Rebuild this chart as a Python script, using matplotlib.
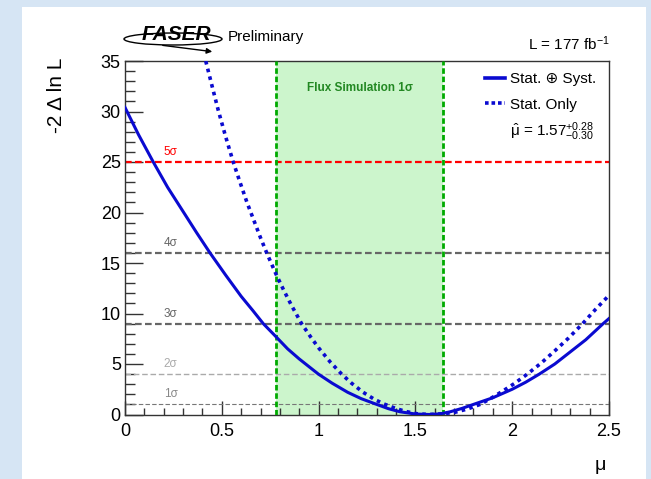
import matplotlib.pyplot as plt
import matplotlib.patches as mpatches
from matplotlib.lines import Line2D
import numpy as np

plt.rcParams['font.family'] = ['Liberation Sans', 'DejaVu Sans']
plt.rcParams['mathtext.fontset'] = 'custom'
plt.rcParams['mathtext.rm'] = 'Liberation Sans'
plt.rcParams['mathtext.it'] = 'Liberation Sans'

# profile likelihood scans
mu_syst = [0.00, 0.07, 0.146, 0.22, 0.30, 0.37, 0.439, 0.52, 0.60, 0.66, 0.714,
           0.78, 0.84, 0.90, 0.999, 1.07, 1.15, 1.22, 1.30, 1.36, 1.42, 1.50,
           1.57, 1.63, 1.68, 1.74, 1.80, 1.90, 2.00, 2.07, 2.14, 2.22, 2.30,
           2.38, 2.47, 2.50]
nll_syst = [30.4, 27.7, 25.0, 22.5, 20.1, 18.0, 16.0, 13.8, 11.7, 10.3, 9.0,
            7.7, 6.5, 5.5, 4.0, 3.1, 2.2, 1.57, 1.0, 0.58, 0.27, 0.05,
            0.0, 0.07, 0.27, 0.6, 1.0, 1.66, 2.5, 3.2, 4.0, 5.0, 6.2,
            7.4, 9.0, 9.5]

mu_stat = [0.417, 0.45, 0.482, 0.52, 0.559, 0.594, 0.63, 0.66, 0.70, 0.732,
           0.78, 0.82, 0.86, 0.912, 0.96, 1.00, 1.06, 1.119, 1.17, 1.23, 1.29,
           1.343, 1.40, 1.45, 1.51, 1.57, 1.63, 1.70, 1.77, 1.834, 1.89, 1.95,
           2.01, 2.078, 2.15, 2.22, 2.29, 2.364, 2.43, 2.50]
nll_stat = [35.0, 32.5, 30.1, 27.5, 25.0, 23.0, 21.0, 19.5, 17.5, 16.0,
            13.9, 12.3, 10.8, 9.0, 7.65, 6.6, 5.2, 4.0, 3.1, 2.2, 1.48,
            1.0, 0.59, 0.3, 0.07, 0.0, 0.06, 0.2, 0.55, 1.0, 1.6, 2.3,
            3.05, 4.0, 5.1, 6.3, 7.55, 9.0, 10.4, 11.8]

sigma_levels = [1, 4, 9, 16, 25]
sigma_labels = ['1σ', '2σ', '3σ', '4σ', '5σ']
sigma_colors = ['#777777', '#aaaaaa', '#666666', '#666666', '#ff0000']
sigma_widths = [0.8, 1.0, 1.6, 1.6, 1.6]

flux_band = [0.78, 1.644]

fig = plt.figure(figsize=(6.51, 4.79), dpi=100)
fig.patch.set_facecolor('#d6e5f4')
fig.patches.append(mpatches.Rectangle((22 / 651, 0), 624 / 651, 472 / 479,
                                      transform=fig.transFigure, facecolor='white',
                                      edgecolor='none', zorder=-10))

ax = fig.add_axes([125 / 651, 1 - 414.5 / 479, 484 / 651, 353.5 / 479])
ax.set_xlim(0, 2.5)
ax.set_ylim(0, 35)

# flux simulation band
ax.axvspan(flux_band[0], flux_band[1], color='#ccf5cc', lw=0, zorder=1)
for xb in flux_band:
    ax.axvline(xb, color='#00aa00', lw=2, ls=(0, (2, 1)), zorder=3)
ax.text(sum(flux_band) / 2, 32.3, 'Flux Simulation 1σ', color='#228822',
        fontsize=8.5, fontweight='bold', ha='center', va='center')

# sigma levels
for lev, lab, col, w in zip(sigma_levels, sigma_labels, sigma_colors, sigma_widths):
    dash = (0, (3, 1.5)) if w > 1.2 else (0, (4, 2))
    ax.axhline(lev, color=col, lw=w, ls=dash, zorder=2)
    ax.text(0.2, lev + 0.4, lab, color=col if lev != 1 else '#888888', fontsize=8.5,
            ha='left', va='bottom')

ax.plot(mu_syst, nll_syst, color='#0a0ad0', lw=2.2, zorder=4)
ax.plot(mu_stat, nll_stat, color='#0a0ad0', lw=2.6, ls=(0, (1, 1.2)), zorder=4)

handles = [Line2D([], [], color='#0a0ad0', lw=2.6),
           Line2D([], [], color='#0a0ad0', lw=2.6, ls=(0, (1, 0.8)))]
ax.legend(handles, ['Stat. ⊕ Syst.', 'Stat. Only'], loc='upper left',
          bbox_to_anchor=(0.744, 0.968), frameon=False, fontsize=11,
          handlelength=1.3, handletextpad=0.35, labelspacing=0.75, borderpad=0,
          borderaxespad=0)
ax.text(0.795, 0.80, r'$\hat{\mu}$ = 1.57$^{+0.28}_{-0.30}$', transform=ax.transAxes,
        fontsize=11, ha='left', va='center')

# ROOT-like ticks
ax.set_xticks(np.arange(0, 2.51, 0.5))
ax.set_xticks(np.arange(0, 2.51, 0.1), minor=True)
ax.set_yticks(np.arange(0, 36, 5))
ax.set_yticks(np.arange(0, 36, 1), minor=True)
ax.set_xticklabels(['0', '0.5', '1', '1.5', '2', '2.5'])
ax.tick_params(which='both', direction='in', top=False, right=False, labelsize=13,
               color='#333333')
ax.tick_params(which='major', length=10, width=1)
ax.tick_params(which='minor', length=5, width=1)
ax.tick_params(axis='y', which='major', length=13, pad=3)
ax.tick_params(axis='y', which='minor', length=7)
ax.tick_params(axis='x', pad=6)
for s in ax.spines.values():
    s.set_color('#333333')
    s.set_linewidth(1)

fig.text(57 / 651, 1 - 58 / 479, '-2 Δ ln L', rotation=90, fontsize=15,
         ha='center', va='top')
fig.text(600 / 651, 1 - 466 / 479, 'μ', fontsize=14, ha='center', va='center')

# header
fig.text(228 / 651, 1 - 37 / 479, 'Preliminary', fontsize=11, ha='left', va='center')
fig.text(610 / 651, 1 - 44 / 479, 'L = 177 fb$^{-1}$', fontsize=11, ha='right',
         va='center')
fig.text(176 / 651, 1 - 34 / 479, 'FASER', fontsize=15, fontweight='heavy',
         style='italic', ha='center', va='center')
fig.patches.append(mpatches.Ellipse((173 / 651, 1 - 39 / 479), 98 / 651, 12 / 479,
                                    transform=fig.transFigure, fill=False,
                                    edgecolor='black', lw=1.0))
fig.patches.append(mpatches.FancyArrowPatch((160 / 651, 1 - 45 / 479),
                                            (215 / 651, 1 - 52 / 479),
                                            transform=fig.transFigure,
                                            arrowstyle='-|>', mutation_scale=8,
                                            color='black', lw=1.0))

fig.savefig('out.png', dpi=100, facecolor=fig.get_facecolor())
